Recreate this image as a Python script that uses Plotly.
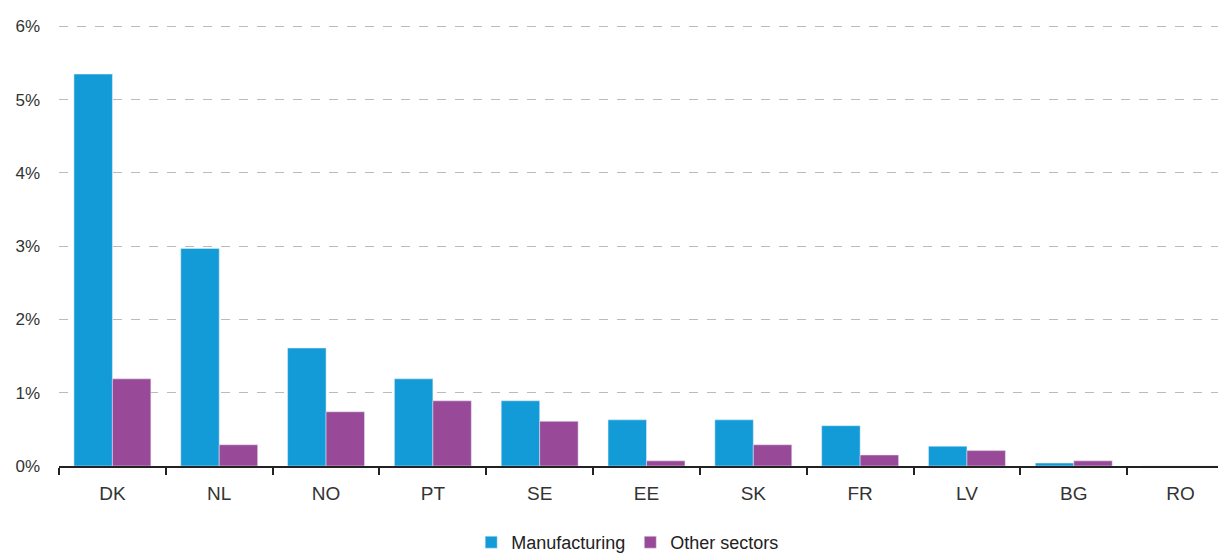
import plotly.graph_objects as go

# data (share, %)
countries = ["DK", "NL", "NO", "PT", "SE", "EE", "SK", "FR", "LV", "BG", "RO"]
manufacturing = [5.35, 2.97, 1.61, 1.19, 0.89, 0.63, 0.63, 0.55, 0.27, 0.04, 0.0]
other_sectors = [1.19, 0.29, 0.74, 0.89, 0.61, 0.07, 0.29, 0.15, 0.21, 0.07, 0.0]
y_ticks = [0, 1, 2, 3, 4, 5, 6]
y_labels = ["0%", "1%", "2%", "3%", "4%", "5%", "6%"]

font_family = "Liberation Sans, Arial, sans-serif"

fig = go.Figure()
fig.add_trace(go.Bar(x=countries, y=manufacturing, name="Manufacturing",
                     marker_color="#139BD7"))
fig.add_trace(go.Bar(x=countries, y=other_sectors, name="Other sectors",
                     marker_color="#984A98"))

# the page body adds an 8px offset, so margins are reduced accordingly
fig.update_layout(
    width=1226, height=553,
    margin=dict(l=51, r=0, t=17, b=93),
    plot_bgcolor="white", paper_bgcolor="white",
    barmode="group", bargap=0.28, bargroupgap=0,
    font=dict(family=font_family, size=17, color="#333333"),
    showlegend=True,
    legend=dict(orientation="h", x=0.484, xanchor="center", y=-0.132, yanchor="top",
                font=dict(size=18, color="#222222"), itemwidth=30,
                tracegroupgap=0),
)

fig.update_xaxes(
    range=[-0.5, 10.5], automargin=False,
    showline=True, linecolor="#222222", linewidth=2,
    ticks="outside", tickson="boundaries", ticklen=7, tickwidth=2, tickcolor="#222222",
    showgrid=False, ticklabelstandoff=9,
    tickfont=dict(size=19, color="#333333"),
)
fig.update_yaxes(
    range=[0, 6.02], tickvals=y_ticks, ticktext=y_labels, automargin=False,
    showgrid=True, gridcolor="#BBBBBB", griddash="dash", gridwidth=1,
    zeroline=False, showline=False, ticklabelstandoff=18,
    tickfont=dict(size=17, color="#333333"),
)

fig.write_html("out.html")
